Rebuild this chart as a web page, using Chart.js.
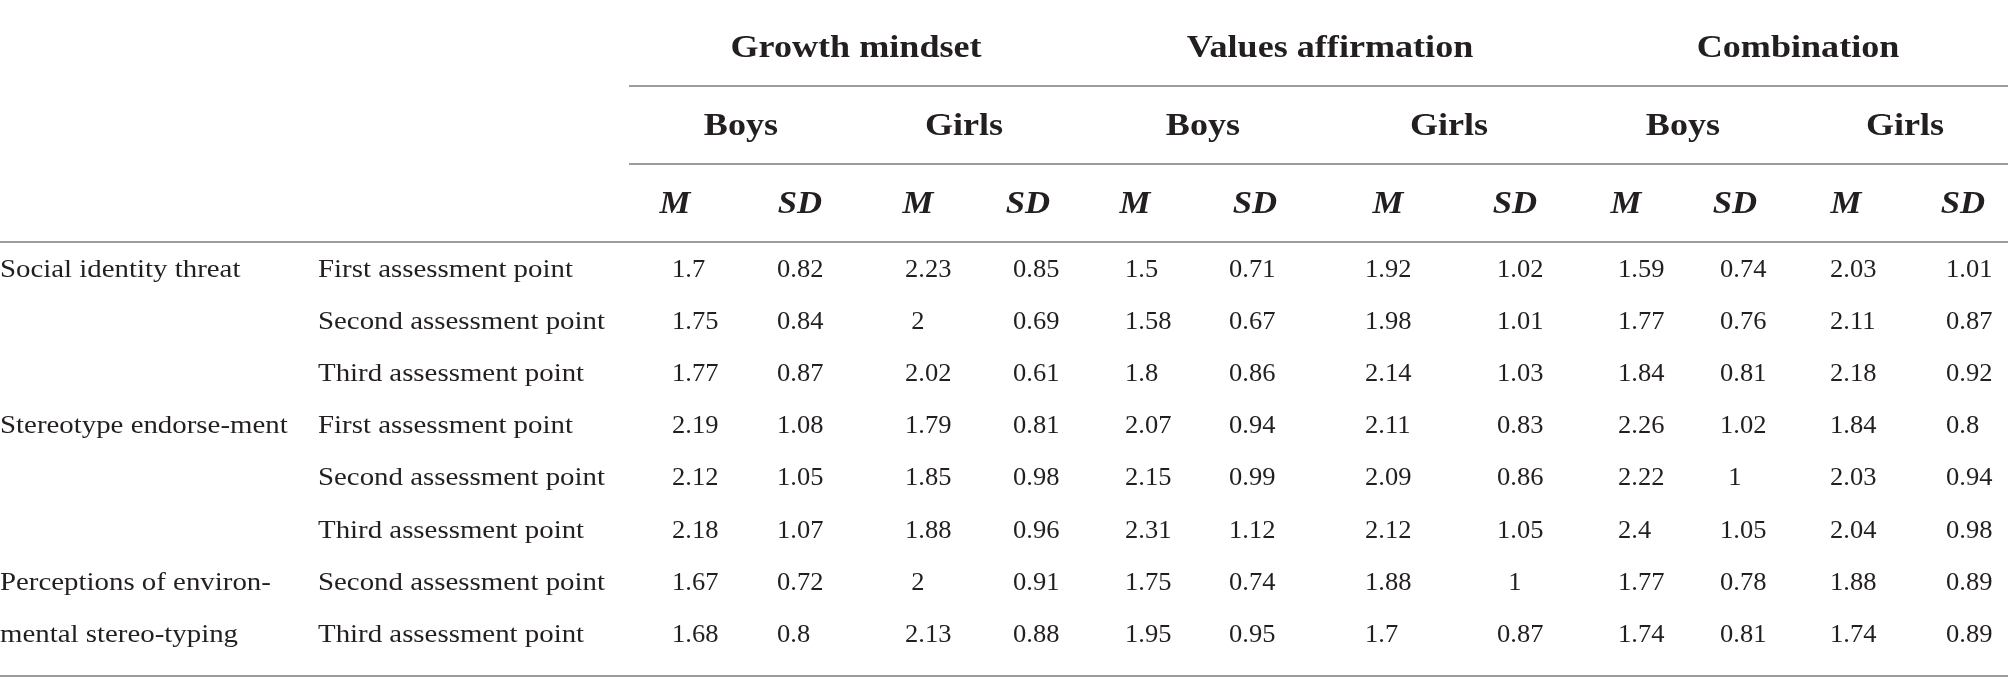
<!DOCTYPE html>
<html>
<head>
<meta charset="utf-8">
<script src="https://cdn.jsdelivr.net/npm/chart.js@4.4.0/dist/chart.umd.min.js"></script>
<style>
  html, body { margin: 0; padding: 0; background: #fff; }
  canvas { display: block; }
</style>
</head>
<body>
<canvas id="tableChart" width="2008" height="695"></canvas>
<script>
// Table content
const groups = ["Growth mindset", "Values affirmation", "Combination"];
const genders = ["Boys", "Girls"];
const stats = ["M", "SD"];
const measures = [
  ["Social identity threat"],
  ["Stereotype endorse-ment"],
  ["Perceptions of environ-", "mental stereo-typing"]
];
const measureRows = [0, 3, 6];
const assessments = [
  "First assessment point", "Second assessment point", "Third assessment point",
  "First assessment point", "Second assessment point", "Third assessment point",
  "Second assessment point", "Third assessment point"
];

// one array per column (group / gender / statistic)
const gmBoysM   = [1.7, 1.75, 1.77, 2.19, 2.12, 2.18, 1.67, 1.68];
const gmBoysSD  = [0.82, 0.84, 0.87, 1.08, 1.05, 1.07, 0.72, 0.8];
const gmGirlsM  = [2.23, 2, 2.02, 1.79, 1.85, 1.88, 2, 2.13];
const gmGirlsSD = [0.85, 0.69, 0.61, 0.81, 0.98, 0.96, 0.91, 0.88];
const vaBoysM   = [1.5, 1.58, 1.8, 2.07, 2.15, 2.31, 1.75, 1.95];
const vaBoysSD  = [0.71, 0.67, 0.86, 0.94, 0.99, 1.12, 0.74, 0.95];
const vaGirlsM  = [1.92, 1.98, 2.14, 2.11, 2.09, 2.12, 1.88, 1.7];
const vaGirlsSD = [1.02, 1.01, 1.03, 0.83, 0.86, 1.05, 1, 0.87];
const coBoysM   = [1.59, 1.77, 1.84, 2.26, 2.22, 2.4, 1.77, 1.74];
const coBoysSD  = [0.74, 0.76, 0.81, 1.02, 1, 1.05, 0.78, 0.81];
const coGirlsM  = [2.03, 2.11, 2.18, 1.84, 2.03, 2.04, 1.88, 1.74];
const coGirlsSD = [1.01, 0.87, 0.92, 0.8, 0.94, 0.98, 0.89, 0.89];

const columns = [
  gmBoysM, gmBoysSD, gmGirlsM, gmGirlsSD,
  vaBoysM, vaBoysSD, vaGirlsM, vaGirlsSD,
  coBoysM, coBoysSD, coGirlsM, coGirlsSD
];

// Layout (x in page units, y in row units)
const colCenter = [675, 800, 918, 1028, 1135, 1255, 1388, 1515, 1626, 1735, 1846, 1963];
const colLeft   = [672, 777, 905, 1013, 1125, 1229, 1365, 1497, 1618, 1720, 1830, 1946];
const genderCenter = [741, 964, 1203, 1449, 1683, 1905];
const groupCenter = [856, 1330, 1798];
const labelX = [0, 318];
const headerY = { group: -4.22, gender: -2.725, stat: -1.23 };
const ruleY = [
  { y: -3.67, from: 629 },
  { y: -2.17, from: 629 },
  { y: -0.67, from: 0 },
  { y: 7.66, from: 0 }
];

const textColor = "#231f20";
const ruleColor = "#9d9d9d";
const FONT = "'Liberation Serif', 'Times New Roman', serif";

function drawText(ctx, txt, x, y, font, sx, align) {
  ctx.save();
  ctx.font = font;
  const w = ctx.measureText(txt).width * sx;
  let left = x;
  if (align === "center") left = x - w / 2;
  ctx.translate(left, y);
  ctx.scale(sx, 1);
  ctx.textAlign = "left";
  ctx.textBaseline = "alphabetic";
  ctx.fillText(txt, 0, 0);
  ctx.restore();
}

const tablePlugin = {
  id: "tablePlugin",
  afterDatasetsDraw(chart) {
    const ctx = chart.ctx;
    const xs = chart.scales.x;
    const ys = chart.scales.y;
    ctx.save();
    ctx.fillStyle = textColor;

    // rules
    ctx.strokeStyle = ruleColor;
    ctx.lineWidth = 2;
    ruleY.forEach(r => {
      const py = Math.round(ys.getPixelForValue(r.y));
      ctx.beginPath();
      ctx.moveTo(xs.getPixelForValue(r.from), py);
      ctx.lineTo(xs.getPixelForValue(2008), py);
      ctx.stroke();
    });

    // header rows
    const hBold = "bold 31px " + FONT;
    groups.forEach((g, i) => {
      drawText(ctx, g, xs.getPixelForValue(groupCenter[i]), ys.getPixelForValue(headerY.group), hBold, 1.165, "center");
    });
    genderCenter.forEach((cx, i) => {
      drawText(ctx, genders[i % 2], xs.getPixelForValue(cx), ys.getPixelForValue(headerY.gender), hBold, 1.165, "center");
    });
    colCenter.forEach((cx, i) => {
      drawText(ctx, stats[i % 2], xs.getPixelForValue(cx), ys.getPixelForValue(headerY.stat), "italic bold 31px " + FONT, 1.12, "center");
    });

    // row labels
    const body = "26px " + FONT;
    measures.forEach((lines, m) => {
      lines.forEach((line, k) => {
        drawText(ctx, line, xs.getPixelForValue(labelX[0]), ys.getPixelForValue(measureRows[m] + k), body, 1.11, "left");
      });
    });
    assessments.forEach((a, r) => {
      drawText(ctx, a, xs.getPixelForValue(labelX[1]), ys.getPixelForValue(r), body, 1.11, "left");
    });

    // cell values from the dataset points
    chart.data.datasets.forEach((ds, c) => {
      const meta = chart.getDatasetMeta(c);
      meta.data.forEach((el, r) => {
        const v = ds.data[r].v;
        if (Number.isInteger(v)) {
          drawText(ctx, String(v), el.x, el.y, body, 1.02, "center");
        } else {
          drawText(ctx, String(v), xs.getPixelForValue(colLeft[c]), el.y, body, 1.02, "left");
        }
      });
    });
    ctx.restore();
  }
};

const datasets = columns.map((vals, c) => ({
  label: groups[Math.floor(c / 4)] + " " + genders[Math.floor(c / 2) % 2] + " " + stats[c % 2],
  data: vals.map((v, r) => ({ x: colCenter[c], y: r, v: v })),
  pointRadius: 0,
  pointHoverRadius: 0,
  showLine: false
}));

new Chart(document.getElementById("tableChart").getContext("2d"), {
  type: "scatter",
  data: { datasets: datasets },
  options: {
    responsive: false,
    animation: false,
    devicePixelRatio: 1,
    layout: { padding: 0 },
    events: [],
    plugins: {
      legend: { display: false },
      tooltip: { enabled: false },
      title: { display: false }
    },
    scales: {
      x: { type: "linear", min: 0, max: 2008, display: false },
      y: { type: "linear", min: -5.317, max: 8.023, reverse: true, display: false }
    }
  },
  plugins: [tablePlugin]
});
</script>
</body>
</html>
